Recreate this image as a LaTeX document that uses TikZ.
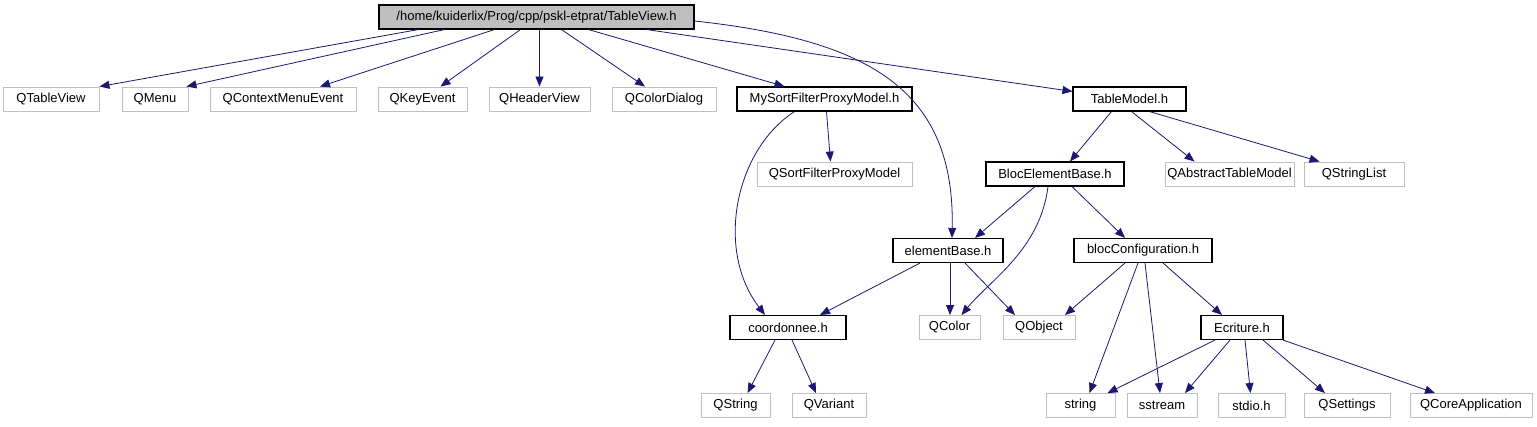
\documentclass[tikz,border=0pt]{standalone}
\usepackage{fontspec}
\setmainfont{Liberation Sans}
\usetikzlibrary{arrows.meta}
\definecolor{edgeBlue}{RGB}{25, 25, 112}
\definecolor{greyBorder}{RGB}{191, 191, 191}

\begin{document}
\begin{tikzpicture}[
        x=1pt, y=-1pt,
        externo/.style={
            rectangle,
            draw=greyBorder,
            line width=0.9pt,
            minimum height=24pt,
            inner sep=0pt,
            font=\fontsize{13}{15}\selectfont
        },
        cabecera/.style={
            externo,
            draw=black,
            line width=1.1pt
        },
        raiz/.style={
            cabecera,
            fill=greyBorder
        },
        flecha/.style={
            -{Triangle[length=10pt,width=8pt]},
            draw=edgeBlue,
            line width=0.8pt
        }
    ]
        \useasboundingbox (0,0) rectangle (1537,427);

        % include file
        \node[raiz, minimum width=315pt] (root) at (536.5,17) {/home/kuiderlix/Prog/cpp/pskl-etprat/TableView.h};

        % first level
        \node[externo, minimum width=96pt] (qtableview) at (51,99) {QTableView};
        \node[externo, minimum width=66pt] (qmenu) at (155,99) {QMenu};
        \node[externo, minimum width=146pt] (qcontextmenu) at (283,99) {QContextMenuEvent};
        \node[externo, minimum width=89pt] (qkeyevent) at (422.5,99) {QKeyEvent};
        \node[externo, minimum width=101pt] (qheaderview) at (539.5,99) {QHeaderView};
        \node[externo, minimum width=104pt] (qcolordialog) at (664,99) {QColorDialog};
        \node[cabecera, minimum width=175pt] (mysortfilter) at (824.5,99) {MySortFilterProxyModel.h};
        \node[cabecera, minimum width=113pt] (tablemodel) at (1129.5,99) {TableModel.h};

        % second level
        \node[externo, minimum width=155pt] (qsortfilter) at (834.5,174) {QSortFilterProxyModel};
        \node[cabecera, minimum width=138pt] (blocelement) at (1055,174) {BlocElementBase.h};
        \node[externo, minimum width=129pt] (qabstracttable) at (1229.5,174) {QAbstractTableModel};
        \node[externo, minimum width=100pt] (qstringlist) at (1354,174) {QStringList};

        % third level
        \node[cabecera, minimum width=110pt] (elementbase) at (948,250.5) {elementBase.h};
        \node[cabecera, minimum width=138pt] (blocconfig) at (1143,250.5) {blocConfiguration.h};

        % fourth level
        \node[cabecera, minimum width=116pt] (coordonnee) at (788,327.5) {coordonnee.h};
        \node[externo, minimum width=61pt] (qcolor) at (949.5,327.5) {QColor};
        \node[externo, minimum width=72pt] (qobject) at (1039,327.5) {QObject};
        \node[cabecera, minimum width=82pt] (ecriture) at (1242,327.5) {Ecriture.h};

        % last level
        \node[externo, minimum width=69pt] (qstring) at (735.5,405.5) {QString};
        \node[externo, minimum width=74pt] (qvariant) at (829,405.5) {QVariant};
        \node[externo, minimum width=69pt] (string) at (1080.5,405.5) {string};
        \node[externo, minimum width=70pt] (sstream) at (1162,405.5) {sstream};
        \node[externo, minimum width=67pt] (stdio) at (1251.5,405.5) {stdio.h};
        \node[externo, minimum width=86pt] (qsettings) at (1347,405.5) {QSettings};
        \node[externo, minimum width=122pt] (qcoreapp) at (1471,405.5) {QCoreApplication};

        % edges from the include file
        \draw[flecha] ([xshift=-118pt]root.south) -- (qtableview.north east);
        \draw[flecha] ([xshift=-92pt]root.south) -- ([xshift=-2pt]qmenu.north east);
        \draw[flecha] ([xshift=-42pt]root.south) -- ([xshift=37pt]qcontextmenu.north);
        \draw[flecha] ([xshift=-16pt]root.south) -- ([xshift=18pt]qkeyevent.north);
        \draw[flecha] ([xshift=3pt]root.south) -- ([xshift=0pt]qheaderview.north);
        \draw[flecha] ([xshift=25pt]root.south) -- ([xshift=-19pt]qcolordialog.north);
        \draw[flecha] ([xshift=52pt]root.south) -- ([xshift=-40pt]mysortfilter.north);
        \draw[flecha] ([xshift=110pt]root.south) -- ([yshift=-5pt]tablemodel.north west);
        \draw[flecha] ([yshift=-4pt]root.east) .. controls (870,40) and (955,90) .. ([xshift=4pt]elementbase.north);

        % MySortFilterProxyModel.h
        \draw[flecha] ([xshift=2pt]mysortfilter.south) -- ([xshift=-4pt]qsortfilter.north);
        \draw[flecha] ([xshift=-30pt]mysortfilter.south) .. controls (735,150) and (715,250) .. ([xshift=-23pt]coordonnee.north);

        % TableModel.h
        \draw[flecha] ([xshift=-18pt]tablemodel.south) -- ([xshift=15pt]blocelement.north);
        \draw[flecha] ([xshift=2pt]tablemodel.south) -- ([xshift=-35pt]qabstracttable.north);
        \draw[flecha] ([xshift=20pt]tablemodel.south) -- ([xshift=16pt]qstringlist.north west);

        % BlocElementBase.h
        \draw[flecha] ([xshift=-20pt]blocelement.south) -- ([xshift=27pt]elementbase.north);
        \draw[flecha] ([xshift=-7pt]blocelement.south) .. controls (1040,250) and (990,280) .. ([xshift=12pt]qcolor.north);
        \draw[flecha] ([xshift=17pt]blocelement.south) -- ([xshift=-18pt]blocconfig.north);

        % elementBase.h
        \draw[flecha] ([xshift=-28pt]elementbase.south) -- ([xshift=32pt]coordonnee.north);
        \draw[flecha] ([xshift=2pt]elementbase.south) -- ([xshift=0.5pt]qcolor.north);
        \draw[flecha] ([xshift=17pt]elementbase.south) -- ([xshift=-24pt]qobject.north);

        % blocConfiguration.h
        \draw[flecha] ([xshift=-18pt]blocconfig.south) -- ([xshift=26pt]qobject.north);
        \draw[flecha] ([xshift=-5pt]blocconfig.south) -- ([xshift=9pt]string.north);
        \draw[flecha] ([xshift=2pt]blocconfig.south) -- ([xshift=-2pt]sstream.north);
        \draw[flecha] ([xshift=20pt]blocconfig.south) -- ([xshift=-20pt]ecriture.north);

        % coordonnee.h
        \draw[flecha] ([xshift=-13pt]coordonnee.south) -- ([xshift=12pt]qstring.north);
        \draw[flecha] ([xshift=4pt]coordonnee.south) -- ([xshift=-13pt]qvariant.north);

        % Ecriture.h
        \draw[flecha] ([xshift=-27pt]ecriture.south) -- ([xshift=27pt]string.north);
        \draw[flecha] ([xshift=-12pt]ecriture.south) -- ([xshift=23pt]sstream.north);
        \draw[flecha] ([xshift=3pt]ecriture.south) -- ([xshift=-1pt]stdio.north);
        \draw[flecha] ([xshift=21pt]ecriture.south) -- ([xshift=-22pt]qsettings.north);
        \draw[flecha] ([xshift=41pt]ecriture.south) -- ([xshift=-36pt]qcoreapp.north);

    \end{tikzpicture}
\end{document}
